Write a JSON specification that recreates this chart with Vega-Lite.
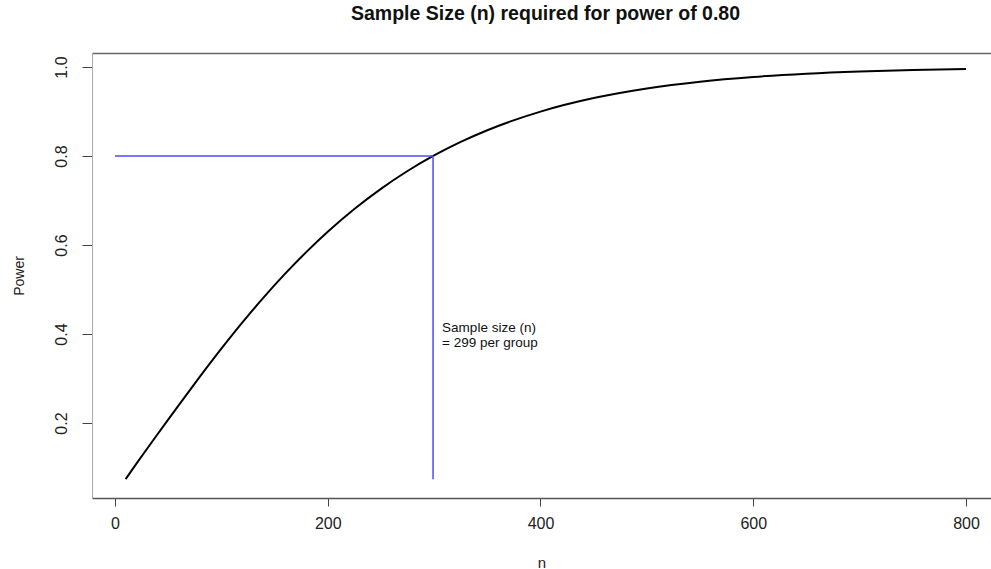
{
  "$schema": "https://vega.github.io/schema/vega-lite/v6.json",
  "autosize": {"type": "none"},
  "width": 899,
  "height": 445,
  "padding": {"left": 92, "top": 53, "right": 0, "bottom": 71},
  "background": "white",
  "config": {
    "view": {"stroke": null},
    "font": "Liberation Sans",
    "axis": {"grid": false, "labelFont": "Liberation Sans", "titleFont": "Liberation Sans", "labelColor": "#222", "titleColor": "#222", "titleFontWeight": "normal"}
  },
  "title": {
    "text": "Sample Size (n) required for power of 0.80",
    "font": "Liberation Sans",
    "fontSize": 19.5,
    "fontWeight": "bold",
    "color": "#111",
    "anchor": "middle",
    "frame": "group",
    "offset": 29,
    "dx": 4
  },
  "datasets": {
    "curve": [
      {"n": 10, "power": 0.0739},
      {"n": 20, "power": 0.1083},
      {"n": 30, "power": 0.1417},
      {"n": 40, "power": 0.1748},
      {"n": 50, "power": 0.2077},
      {"n": 60, "power": 0.2404},
      {"n": 80, "power": 0.3047},
      {"n": 100, "power": 0.3670},
      {"n": 120, "power": 0.4266},
      {"n": 140, "power": 0.4829},
      {"n": 160, "power": 0.5356},
      {"n": 180, "power": 0.5846},
      {"n": 200, "power": 0.6298},
      {"n": 225, "power": 0.6809},
      {"n": 250, "power": 0.7263},
      {"n": 275, "power": 0.7663},
      {"n": 300, "power": 0.8013},
      {"n": 325, "power": 0.8317},
      {"n": 350, "power": 0.8580},
      {"n": 400, "power": 0.8998},
      {"n": 450, "power": 0.9302},
      {"n": 500, "power": 0.9518},
      {"n": 550, "power": 0.9671},
      {"n": 600, "power": 0.9777},
      {"n": 650, "power": 0.9850},
      {"n": 700, "power": 0.9900},
      {"n": 750, "power": 0.9934},
      {"n": 800, "power": 0.9956}
    ],
    "segments": [
      {"x": 0, "x2": 299, "y": 0.8, "y2": 0.8},
      {"x": 299, "x2": 299, "y": 0.0739, "y2": 0.8}
    ],
    "note": [
      {"n": 300, "power": 0.4, "label": "Sample size (n)\n= 299 per group"}
    ]
  },
  "resolve": {"axis": {"x": "independent"}},
  "layer": [
    {
      "data": {"name": "curve"},
      "mark": {"type": "line", "color": "black", "strokeWidth": 2, "interpolate": "monotone"},
      "encoding": {
        "x": {
          "field": "n", "type": "quantitative",
          "scale": {"domain": [-21.6, 823.5], "nice": false, "zero": false},
          "axis": {"orient": "bottom", "values": [0, 200, 400, 600, 800], "title": "n", "titleFontSize": 15, "titlePadding": 24, "labelFontSize": 16, "labelPadding": 9, "tickSize": 8, "tickColor": "#444", "domainColor": "#555", "domainWidth": 1.5, "labelFlush": false}
        },
        "y": {
          "field": "power", "type": "quantitative",
          "scale": {"domain": [0.0315, 1.0315], "nice": false, "zero": false},
          "axis": {"values": [0.2, 0.4, 0.6, 0.8, 1.0], "format": ".1f", "title": "Power", "titleFontSize": 14, "titlePadding": 27, "labelAngle": -90, "labelAlign": "center", "labelBaseline": "bottom", "labelFontSize": 16, "labelPadding": 13, "tickSize": 10, "tickColor": "#444", "domainColor": "#aaa", "domainWidth": 1, "labelFlush": false}
        }
      }
    },
    {
      "data": {"name": "segments"},
      "mark": {"type": "rule", "color": "#4b4bff", "strokeWidth": 1.5},
      "encoding": {
        "x": {"field": "x", "type": "quantitative", "axis": {"orient": "top", "labels": false, "ticks": false, "title": null, "domainColor": "#666", "domainWidth": 1.5}},
        "x2": {"field": "x2"},
        "y": {"field": "y", "type": "quantitative"},
        "y2": {"field": "y2"}
      }
    },
    {
      "data": {"name": "note"},
      "mark": {"type": "text", "align": "left", "baseline": "middle", "dx": 8, "dy": -6, "fontSize": 13.5, "lineHeight": 14.5, "lineBreak": "\n", "color": "#111", "font": "Liberation Sans"},
      "encoding": {
        "x": {"field": "n", "type": "quantitative", "axis": null},
        "y": {"field": "power", "type": "quantitative"},
        "text": {"field": "label"}
      }
    }
  ]
}
